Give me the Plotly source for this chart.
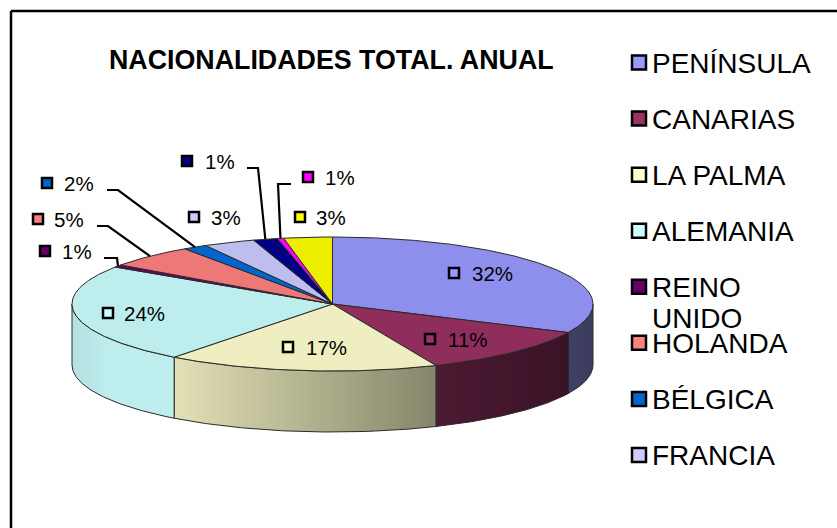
import numpy as np
import plotly.graph_objects as go

# ---- data ----
categories = ["PENÍNSULA", "CANARIAS", "LA PALMA", "ALEMANIA", "REINO UNIDO", "HOLANDA",
              "BÉLGICA", "FRANCIA", "OTROS 1", "OTROS 2", "OTROS 3"]
values = [32, 11.5, 16.9, 23.9, 0.6, 5.5, 1.5, 3.2, 1.5, 0.4, 3.0]
value_labels = ["32%", "11%", "17%", "24%", "1%", "5%", "2%", "3%", "1%", "1%", "3%"]
legend_names = ["PENÍNSULA", "CANARIAS", "LA PALMA", "ALEMANIA", "REINO<br>UNIDO", "HOLANDA", "BÉLGICA", "FRANCIA"]
title_text = "NACIONALIDADES TOTAL. ANUAL"

# ---- styles ----
top_colors = ["#8E8EEC", "#8F2E5C", "#EEEEC0", "#BDEDED", "#660066", "#EE7777",
              "#0066CC", "#BDBDEE", "#000080", "#FF00FF", "#EEEE00"]
key_colors = ["#9999FF", "#993366", "#FFFFCC", "#CCFFFF", "#660066", "#FF8080",
              "#0066CC", "#CCCCFF", "#000080", "#FF00FF", "#FFFF00"]
side_grad = {0: [[0, "#414168"], [1, "#3C3C60"]],
             1: [[0, "#4C1A32"], [1, "#3A1226"]],
             2: [[0, "#E2E1B6"], [1, "#85856A"]],
             3: [[0, "#B4E0E0"], [0.35, "#BDEDED"], [1, "#BDEDED"]]}
FONT = "Liberation Sans"

# ---- geometry of the drawing (pixels of the 837x528 page) ----
CX, CY, RX, RY, DEPTH = 332.5, 304, 260.5, 67, 61
label_xy = [(454, 273), (430, 339), (288, 347), (108, 313), (45, 251), (38, 219),
            (47, 183), (194, 217), (187, 161), (308, 177), (300, 217)]
label_dx = [18, 18, 18, 16, 17, 16, 17, 17, 18, 17, 16]
leaders = {4: [(104, 258), (117, 258)], 5: [(97, 226), (108, 226)], 6: [(107, 190), (118, 190)],
           8: [(247, 168), (258, 168)], 9: [(291, 184), (278, 184)]}
legend_x, legend_y0, legend_dy, legend_line = 639, 62.5, 56.07, 31


def rim(deg, dy=0.0):
    a = np.radians(deg)
    return CX + RX * np.sin(a), CY - RY * np.cos(a) + dy


fig = go.Figure()
shares = np.array(values, dtype=float)
edges = np.concatenate([[0], np.cumsum(shares) / shares.sum() * 360])
EDGE = "#2A2A2A"

# side walls of the front half
for i in range(len(values)):
    a0, a1 = max(edges[i], 90), min(edges[i + 1], 270)
    if a1 <= a0:
        continue
    t = np.linspace(a0, a1, 80)
    xt, yt = rim(t)
    xb, yb = rim(t[::-1], DEPTH)
    x = np.r_[xt, xb, xt[0]]
    y = np.r_[yt, yb, yt[0]]
    fig.add_trace(go.Scatter(
        x=x, y=y, mode="lines", fill="toself", line=dict(color=EDGE, width=1),
        fillgradient=dict(type="horizontal", start=float(x.min()), stop=float(x.max()),
                          colorscale=side_grad[i]),
        hoverinfo="skip", showlegend=False))

# top faces
for i, name in enumerate(categories):
    t = np.linspace(edges[i], edges[i + 1], max(int(edges[i + 1] - edges[i]) * 2, 6))
    xt, yt = rim(t)
    fig.add_trace(go.Scatter(
        x=np.r_[CX, xt, CX], y=np.r_[CY, yt, CY], mode="lines", fill="toself",
        fillcolor=top_colors[i], line=dict(color=EDGE, width=1),
        name=name, hoverinfo="skip", showlegend=False))

# leader lines, ending on the rim at the middle of their slice
for i, pts in leaders.items():
    ex, ey = rim((edges[i] + edges[i + 1]) / 2)
    fig.add_trace(go.Scatter(
        x=[p[0] for p in pts] + [ex], y=[p[1] for p in pts] + [ey], mode="lines",
        line=dict(color="black", width=2.2), hoverinfo="skip", showlegend=False))

# value labels with their keys
fig.add_trace(go.Scatter(
    x=[p[0] for p in label_xy], y=[p[1] for p in label_xy], mode="markers",
    marker=dict(symbol="square", size=10, color=key_colors, line=dict(color="black", width=2.5)),
    hoverinfo="skip", showlegend=False))
for i, lab in enumerate(value_labels):
    fig.add_annotation(x=label_xy[i][0] + label_dx[i], y=label_xy[i][1], text=lab, showarrow=False,
                       xanchor="left", yanchor="middle", xshift=-2, font=dict(family=FONT, size=20.5, color="black"))

# legend, clipped at eight entries as in the picture
ly = [legend_y0 + k * legend_dy for k in range(len(legend_names))]
fig.add_trace(go.Scatter(
    x=[legend_x] * len(ly), y=ly, mode="markers",
    marker=dict(symbol="square", size=14, color=key_colors[:len(ly)], line=dict(color="black", width=2.5)),
    hoverinfo="skip", showlegend=False))
for yy, nm in zip(ly, legend_names):
    for k, part in enumerate(nm.split("<br>")):
        fig.add_annotation(x=legend_x + 12, y=yy - 16 + k * legend_line, text=part, showarrow=False,
                           xanchor="left", yanchor="top", align="left", borderpad=0,
                           font=dict(family=FONT, size=28, color="black"))

fig.add_annotation(x=331, y=60, text="<b>%s</b>" % title_text, showarrow=False, xanchor="center", yanchor="middle",
                   font=dict(family=FONT, size=26.8, color="black"))

# chart frame, running off the right and bottom of the page
frame = dict(color="black", width=2.5)
fig.add_shape(type="line", x0=11, x1=837, y0=11, y1=11, line=frame, layer="above")
fig.add_shape(type="line", x0=11, x1=11, y0=11, y1=528, line=frame, layer="above")

fig.update_layout(
    width=837, height=528, autosize=False, margin=dict(l=0, r=0, t=0, b=0),
    paper_bgcolor="white", plot_bgcolor="white", showlegend=False, hovermode=False,
    xaxis=dict(range=[0, 837], visible=False, fixedrange=True),
    yaxis=dict(range=[528, 0], visible=False, fixedrange=True))

fig.write_html("out.html", config=dict(displayModeBar=False),
               post_script="document.body.style.margin='0';document.body.style.overflow='hidden';")
